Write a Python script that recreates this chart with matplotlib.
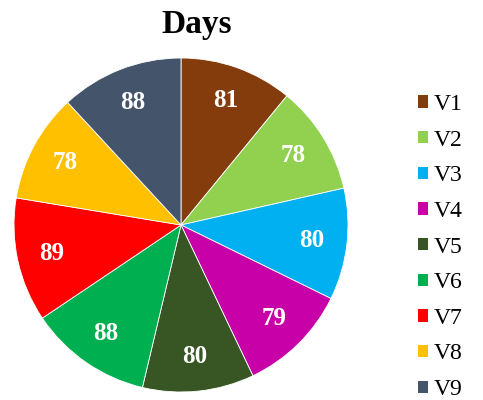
import matplotlib
matplotlib.use("Agg")
import matplotlib.pyplot as plt
from matplotlib.patches import Patch

# Data:
labels = ["V1", "V2", "V3", "V4", "V5", "V6", "V7", "V8", "V9"]
days = [81, 78, 80, 79, 80, 88, 89, 78, 88]
colours = ["#843C0C", "#92D050", "#00B0F0", "#C800A8", "#375623",
           "#00B050", "#FF0000", "#FFC000", "#44546A"]

plt.rcParams["font.family"] = ["Liberation Serif", "DejaVu Serif"]

# Setup figure:
fig = plt.figure(figsize=(4.83, 4.00), dpi=100)
ax = fig.add_axes([14/483, 8/400, 334/483, 334/400])

total = sum(days)
wedges, texts, autotexts = ax.pie(
    days, colors=colours, startangle=90, counterclock=False,
    autopct=lambda p: "%d" % round(p*total/100.0), pctdistance=0.79,
    wedgeprops=dict(edgecolor="white", linewidth=0.6),
    textprops=dict(color="white", fontsize=18, fontweight="bold"))
ax.set_xlim(-1.0, 1.0)
ax.set_ylim(-1.0, 1.0)
ax.set_aspect("equal")

fig.text(197/483, 1 - 25/400, "Days", ha="center", va="center",
         fontsize=24, fontweight="bold")

handles = [Patch(facecolor=c, edgecolor="none") for c in colours]
fig.legend(handles, labels, loc="upper left", bbox_to_anchor=(418/483, 1 - 94/400),
           frameon=False, fontsize=17, borderpad=0, borderaxespad=0,
           handlelength=0.42, handleheight=0.42, handletextpad=0.25,
           labelspacing=0.62)

plt.savefig("out.png", dpi=100)
